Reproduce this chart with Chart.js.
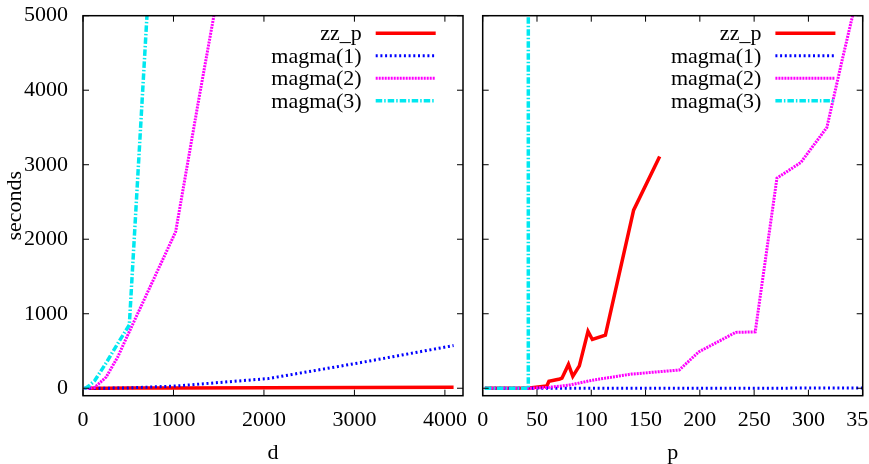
<!DOCTYPE html>
<html>
<head>
<meta charset="utf-8">
<title>zz_p vs magma timings</title>
<script src="https://cdn.jsdelivr.net/npm/chart.js@4.4.0/dist/chart.umd.min.js"></script>
<style>
  html, body { margin: 0; padding: 0; background: #fff; overflow: hidden; width: 869px; height: 464px; }
  .panel { position: absolute; top: 0; height: 464px; }
  #leftBox { left: 0; width: 470px; }
  #rightBox { left: 470px; width: 430px; }
</style>
</head>
<body>
<div class="panel" id="leftBox"><canvas id="chartD"></canvas></div>
<div class="panel" id="rightBox"><canvas id="chartP"></canvas></div>
<script>
// === DATA: LEFT PANEL (seconds vs d) ===
const dZzX = [64, 128, 256, 512, 1024, 2048, 3072, 4096];
const dZzY = [0, 0, 1, 2, 4, 7, 10, 12];
const dM1X = [16, 32, 64, 128, 256, 512, 1024, 2048, 3072, 4096];
const dM1Y = [0, 0, 0, 0, 1, 5, 30, 130, 345, 573];
const dM2X = [16, 32, 64, 128, 256, 384, 512, 768, 1024, 1280, 1536];
const dM2Y = [0, 0, 0, 10, 150, 420, 760, 1430, 2100, 3880, 5600];
const dM3X = [16, 32, 64, 128, 256, 384, 512, 768];
const dM3Y = [0, 5, 30, 100, 340, 600, 850, 6300];

// === DATA: RIGHT PANEL (seconds vs p) ===
const pZzX = [2, 43, 53, 59, 61, 71, 73, 79, 83, 89, 97, 101, 113, 139, 163];
const pZzY = [0, 5, 20, 30, 95, 125, 135, 320, 160, 300, 765, 655, 712, 2390, 3110];
const pM1X = [2, 50, 100, 150, 200, 250, 300, 350];
const pM1Y = [0, 0, 0, 1, 1, 1, 2, 2];
const pM2X = [2, 41, 59, 79, 101, 137, 181, 199, 233, 251, 271, 293, 317, 331, 347];
const pM2Y = [0, 0, 10, 40, 108, 190, 245, 488, 750, 757, 2820, 3030, 3500, 4400, 5390];
const pM3X = [2, 42, 43];
const pM3Y = [0, 0, 1000000];

// === AXES ===
const seriesNames = ['zz_p', 'magma(1)', 'magma(2)', 'magma(3)'];
const yTicks = [0, 1000, 2000, 3000, 4000, 5000];
const dTicks = [0, 1000, 2000, 3000, 4000];
const pTicks = [0, 50, 100, 150, 200, 250, 300, 350];

const FONT = 'Liberation Serif';

// gnuplot-like line styles
const styles = [
  { color: '#ff0000', width: 3.5, dash: [] },
  { color: '#0000ff', width: 3, dash: [2, 2.7] },
  { color: '#ff00ff', width: 3, dash: [2, 1] },
  { color: '#00e8f0', width: 3.5, dash: [6.5, 2, 1.5, 2] }
];

function toPoints(xs, ys) {
  return xs.map((x, i) => ({ x: x, y: ys[i] }));
}

function makeDatasets(list) {
  return list.map(([xs, ys], i) => ({
    label: seriesNames[i],
    data: toPoints(xs, ys),
    borderColor: styles[i].color,
    borderWidth: styles[i].width,
    borderDash: styles[i].dash,
    borderCapStyle: 'butt',
    pointRadius: 0,
    fill: false,
    tension: 0,
    clip: 0,
    order: 4 - i   // later series on top, like gnuplot
  }));
}

// === FRAME, INWARD TICKS AND LEGEND ===
const gnuplotFrame = {
  id: 'gnuplotFrame',
  afterDraw(chart) {
    const { ctx, chartArea: a, scales } = chart;
    const seg = (x1, y1, x2, y2) => {
      ctx.beginPath(); ctx.moveTo(x1, y1); ctx.lineTo(x2, y2); ctx.stroke();
    };
    ctx.save();
    ctx.strokeStyle = '#000';
    ctx.lineWidth = 1;
    scales.x.ticks.forEach(t => {
      const px = scales.x.getPixelForValue(t.value);
      seg(px, a.bottom, px, a.bottom - 6);
      seg(px, a.top, px, a.top + 6);
    });
    scales.y.ticks.forEach(t => {
      const py = scales.y.getPixelForValue(t.value);
      seg(a.left, py, a.left + 6, py);
      seg(a.right, py, a.right - 6, py);
    });
    ctx.lineWidth = 1.5;
    ctx.strokeRect(a.left, a.top, a.right - a.left, a.bottom - a.top);

    // legend: text right aligned, sample line on the right
    ctx.font = '22px "' + FONT + '"';
    ctx.fillStyle = '#000';
    ctx.textAlign = 'right';
    ctx.textBaseline = 'alphabetic';
    seriesNames.forEach((name, i) => {
      const y = a.top + 17.6 + i * 22.5;
      ctx.fillText(name, a.right - 101.3, y + 7);
      ctx.strokeStyle = styles[i].color;
      ctx.lineWidth = styles[i].width;
      ctx.setLineDash(styles[i].dash);
      seg(a.right - 87.3, y, a.right - 27.3, y);
    });
    ctx.restore();
  }
};

function makeOptions(cfg) {
  return {
    responsive: true,
    maintainAspectRatio: false,
    animation: false,
    events: [],
    layout: { padding: { top: 15.7, right: cfg.padRight, bottom: 0, left: 0 } },
    plugins: { legend: { display: false }, tooltip: { enabled: false } },
    scales: {
      x: {
        type: 'linear',
        min: cfg.xMin,
        max: cfg.xMax,
        grid: { display: false, drawTicks: false },
        border: { display: false },
        afterBuildTicks: (s) => { s.ticks = cfg.xTicks.map(v => ({ value: v })); },
        ticks: {
          autoSkip: false,
          maxRotation: 0,
          padding: 11,
          color: '#000',
          font: { family: FONT, size: 22 },
          callback: (v) => String(v)
        },
        title: {
          display: true,
          text: cfg.xTitle,
          color: '#000',
          font: { family: FONT, size: 22, lineHeight: 1 },
          padding: { top: 0, bottom: 0 }
        },
        // fixed box; no extra room for overhanging end labels
        afterFit: (s) => { s.height = 68.3; s.paddingLeft = 0; s.paddingRight = 0; }
      },
      y: {
        type: 'linear',
        min: -100,
        max: 5000,
        grid: { display: false, drawTicks: false },
        border: { display: false },
        afterBuildTicks: (s) => { s.ticks = yTicks.map(v => ({ value: v })); },
        ticks: {
          display: cfg.showY,
          padding: 15,
          color: '#000',
          font: { family: FONT, size: 22 },
          callback: (v) => String(v)
        },
        title: {
          display: cfg.showY,
          text: 'seconds',
          color: '#000',
          font: { family: FONT, size: 22 },
          padding: { top: 2, bottom: 0 }
        },
        afterFit: (s) => { s.width = cfg.yWidth; s.paddingTop = 0; s.paddingBottom = 0; }
      }
    }
  };
}

new Chart(document.getElementById('chartD'), {
  type: 'line',
  data: { datasets: makeDatasets([[dZzX, dZzY], [dM1X, dM1Y], [dM2X, dM2Y], [dM3X, dM3Y]]) },
  options: makeOptions({ xMin: 0, xMax: 4200, xTicks: dTicks, xTitle: 'd', showY: true, yWidth: 83, padRight: 7 }),
  plugins: [gnuplotFrame]
});

new Chart(document.getElementById('chartP'), {
  type: 'line',
  data: { datasets: makeDatasets([[pZzX, pZzY], [pM1X, pM1Y], [pM2X, pM2Y], [pM3X, pM3Y]]) },
  options: makeOptions({ xMin: 0, xMax: 350, xTicks: pTicks, xTitle: 'p', showY: false, yWidth: 12.7, padRight: 37.3 }),
  plugins: [gnuplotFrame]
});
</script>
</body>
</html>
